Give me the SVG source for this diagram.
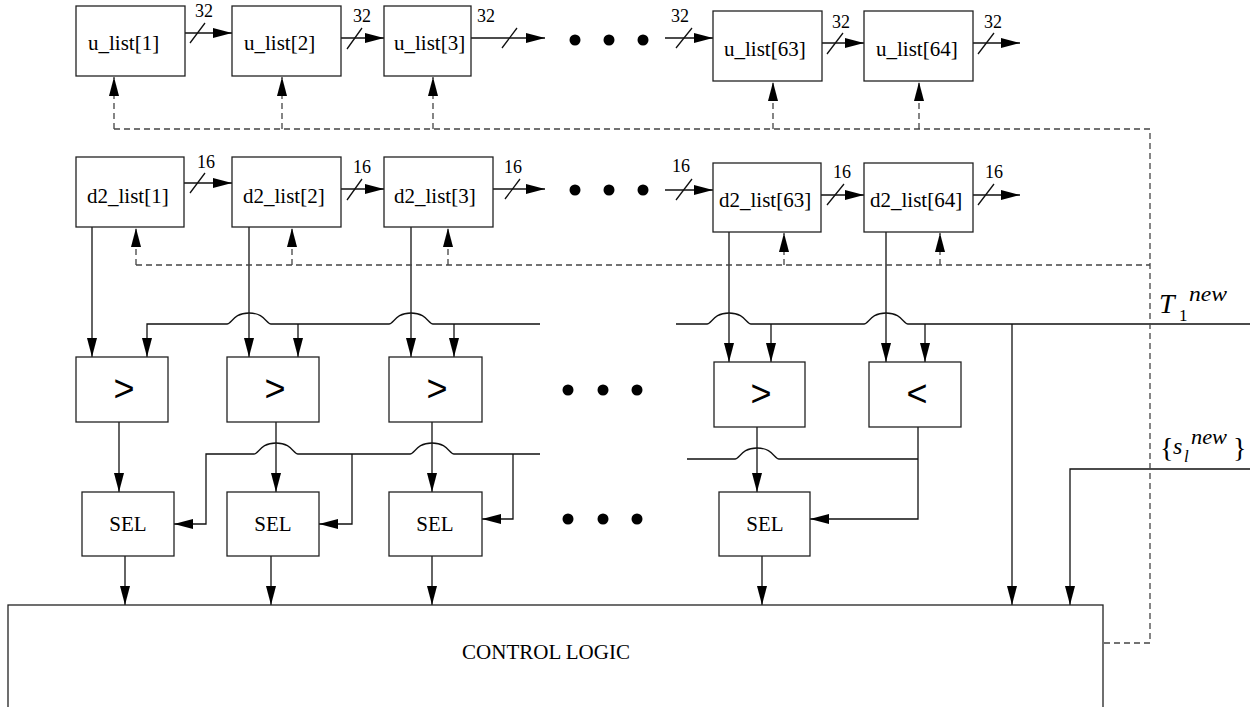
<svg xmlns="http://www.w3.org/2000/svg" width="1250" height="707" viewBox="0 0 1250 707">
<style>
.box{fill:#fff;stroke:#222;stroke-width:1.3}
.w{fill:none;stroke:#111;stroke-width:1.3}
.d{fill:none;stroke:#444;stroke-width:1.3;stroke-dasharray:6 4}
.t{font-family:"Liberation Serif",serif;font-size:21px;fill:#000}
.n{font-family:"Liberation Serif",serif;font-size:18px;fill:#000}
.c{font-family:"Liberation Sans",sans-serif;font-size:36px;fill:#000;text-anchor:middle}
.m{text-anchor:middle}
.i{font-family:"Liberation Serif",serif;font-style:italic;fill:#000}
.r{font-family:"Liberation Serif",serif;fill:#000}
</style>
<defs>
<marker id="ah" viewBox="0 0 19 10" refX="19" refY="5" markerWidth="19" markerHeight="10" markerUnits="userSpaceOnUse" orient="auto"><path d="M0,0 L19,5 L0,10 z" fill="#000"/></marker>
</defs>
<rect width="1250" height="707" fill="#fff"/>
<g id="connectors">
<g class="w" marker-end="url(#ah)">
<path d="M185,33 H232"/><path d="M341,38 H384"/><path d="M471,38 H545"/>
<path d="M665,38 H713"/><path d="M822,43 H864"/><path d="M973,43 H1020"/>
<path d="M184,183 H232"/><path d="M341,189 H384"/><path d="M493,189 H545"/>
<path d="M665,190 H713"/><path d="M821,195 H864"/><path d="M973,195 H1020"/>
<path d="M92,227 V357"/><path d="M249,227 V357"/><path d="M411,227 V357"/>
<path d="M729,232 V362"/><path d="M886,232 V362"/>
<path d="M540,324 H433 C428,324 427,313 411,313 C395,313 394,324 389,324 H271 C266,324 265,313 249,313 C233,313 232,324 227,324 H147 V357"/>
<path d="M298,324 V357"/><path d="M454,324 V357"/>
<path d="M771,324 V362"/><path d="M925,324 V362"/><path d="M1012,324 V605"/>
<path d="M119,422 V492"/><path d="M276,422 V492"/><path d="M432,422 V492"/><path d="M757,427 V492"/>
<path d="M540,454 H454 C449,454 448,443 432,443 C416,443 415,454 410,454 H298 C293,454 292,443 276,443 C260,443 259,454 254,454 H206 V524 H174"/>
<path d="M352,454 V524 H319"/>
<path d="M513,454 V519 H482"/>
<path d="M918,427 V519 H810"/>
<path d="M125,556 V605"/><path d="M271,556 V605"/><path d="M432,556 V605"/><path d="M762,556 V605"/>
<path d="M1250,469 H1070 V605"/>
</g>
<g class="w">
<path d="M676,324 H707 C712,324 713,313 729,313 C745,313 746,324 751,324 H864 C869,324 870,313 886,313 C902,313 903,324 908,324 H1250"/>
<path d="M918,459 H779 C774,459 773,448 757,448 C741,448 740,459 735,459 H687"/>
<path d="M190,43 L205,23 M347,49 L362,28 M502,48 L517,28 M676,48 L692,28 M827,54 L843,33 M978,54 L994,33"/>
<path d="M190,193 L205,173 M347,200 L362,179 M505,199 L520,179 M676,200 L692,179 M827,205 L844,184 M978,205 L994,184"/>
</g>
<path class="d" d="M114,129 H1150 V643 H1103"/>
<path class="d" d="M136,265 H1150"/>
<g class="d" marker-end="url(#ah)">
<path d="M114,129 V77"/><path d="M282,129 V77"/><path d="M433,129 V77"/><path d="M773,129 V82"/><path d="M919,129 V82"/>
<path d="M136,265 V228"/><path d="M292,265 V228"/><path d="M448,265 V228"/><path d="M784,265 V233"/><path d="M940,265 V233"/>
</g>
<g class="n">
<text x="195" y="17">32</text><text x="353" y="22">32</text><text x="477" y="22">32</text>
<text x="671" y="22">32</text><text x="832" y="28">32</text><text x="984" y="28">32</text>
<text x="197" y="168">16</text><text x="353" y="173">16</text><text x="504" y="173">16</text>
<text x="672" y="172">16</text><text x="833" y="178">16</text><text x="985" y="178">16</text>
</g>
</g>
<g id="u1"><rect class="box" x="76" y="6" width="109" height="70"/><text class="t" x="88" y="50">u_list[1]</text></g>
<g id="u2"><rect class="box" x="232" y="6" width="109" height="70"/><text class="t" x="244" y="50">u_list[2]</text></g>
<g id="u3"><rect class="box" x="384" y="6" width="87" height="70"/><text class="t" x="394" y="50">u_list[3]</text></g>
<g id="u63"><rect class="box" x="713" y="11" width="109" height="70"/><text class="t" x="724" y="56">u_list[63]</text></g>
<g id="u64"><rect class="box" x="864" y="11" width="109" height="70"/><text class="t" x="876" y="56">u_list[64]</text></g>
<g id="d1"><rect class="box" x="76" y="157" width="108" height="70"/><text class="t" x="87" y="203">d2_list[1]</text></g>
<g id="d2"><rect class="box" x="232" y="157" width="109" height="70"/><text class="t" x="243" y="203">d2_list[2]</text></g>
<g id="d3"><rect class="box" x="384" y="157" width="109" height="70"/><text class="t" x="394" y="203">d2_list[3]</text></g>
<g id="d63"><rect class="box" x="713" y="163" width="108" height="69"/><text class="t" x="719" y="207">d2_list[63]</text></g>
<g id="d64"><rect class="box" x="864" y="163" width="109" height="69"/><text class="t" x="870" y="207">d2_list[64]</text></g>
<g id="c1"><rect class="box" x="76" y="357" width="92" height="65"/><text class="c" x="124" y="401">&gt;</text></g>
<g id="c2"><rect class="box" x="227" y="357" width="92" height="65"/><text class="c" x="275" y="401">&gt;</text></g>
<g id="c3"><rect class="box" x="389" y="357" width="93" height="65"/><text class="c" x="437" y="401">&gt;</text></g>
<g id="c63"><rect class="box" x="714" y="362" width="91" height="65"/><text class="c" x="761" y="406">&gt;</text></g>
<g id="c64"><rect class="box" x="869" y="362" width="92" height="65"/><text class="c" x="917" y="406">&lt;</text></g>
<g id="s1"><rect class="box" x="82" y="492" width="92" height="64"/><text class="t m" x="128" y="531">SEL</text></g>
<g id="s2"><rect class="box" x="227" y="492" width="92" height="64"/><text class="t m" x="273" y="531">SEL</text></g>
<g id="s3"><rect class="box" x="389" y="492" width="93" height="64"/><text class="t m" x="435" y="531">SEL</text></g>
<g id="s63"><rect class="box" x="719" y="492" width="91" height="64"/><text class="t m" x="765" y="531">SEL</text></g>
<g id="ctrl"><rect class="box" x="8" y="605" width="1095" height="130"/><text class="t m" x="546" y="659">CONTROL LOGIC</text></g>
<g id="dots" fill="#000">
<circle cx="575" cy="40" r="5.5"/><circle cx="609" cy="40" r="5.5"/><circle cx="643" cy="40" r="5.5"/>
<circle cx="575" cy="190" r="5.5"/><circle cx="609" cy="190" r="5.5"/><circle cx="643" cy="190" r="5.5"/>
<circle cx="568" cy="390" r="5.5"/><circle cx="603" cy="390" r="5.5"/><circle cx="637" cy="390" r="5.5"/>
<circle cx="568" cy="519" r="5.5"/><circle cx="603" cy="519" r="5.5"/><circle cx="637" cy="519" r="5.5"/>
</g>
<g id="labelT">
<text class="i" x="1159" y="313" font-size="28">T</text>
<text class="i" x="1189" y="301" font-size="22" textLength="38" lengthAdjust="spacingAndGlyphs">new</text>
<text class="r" x="1179" y="321" font-size="17">1</text>
</g>
<g id="labelS">
<text class="r" x="1160" y="457" font-size="28">{</text>
<text class="i" x="1173" y="454" font-size="24">s</text>
<text class="i" x="1184" y="462" font-size="17">l</text>
<text class="i" x="1191" y="444" font-size="22" textLength="36" lengthAdjust="spacingAndGlyphs">new</text>
<text class="r" x="1233" y="457" font-size="28">}</text>
</g>
</svg>
